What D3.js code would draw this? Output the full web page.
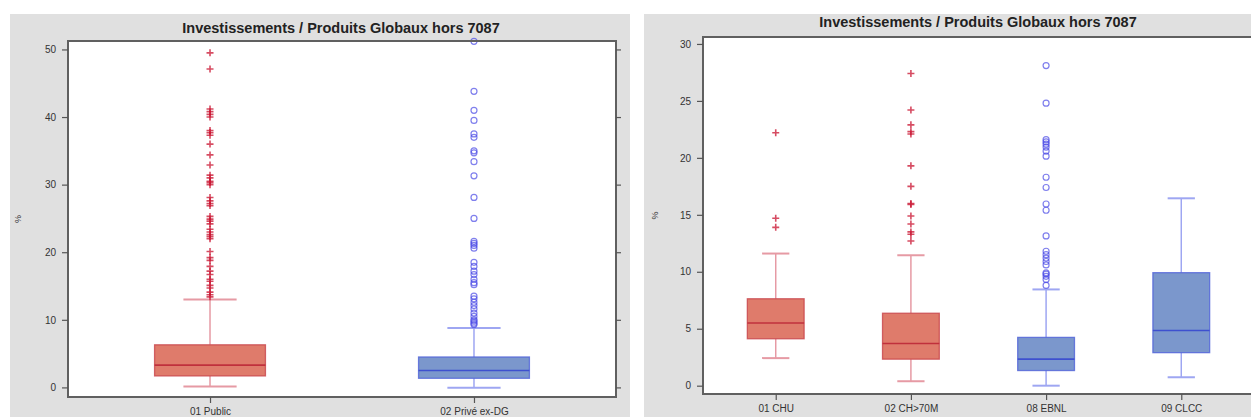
<!DOCTYPE html>
<html><head><meta charset="utf-8">
<script src="https://cdn.jsdelivr.net/npm/d3@7"></script>
<style>
html,body{margin:0;padding:0;background:#fff;overflow:hidden}
text{font-family:"Liberation Sans",Arial,sans-serif}
</style></head>
<body><svg id="c" width="1251" height="417"></svg>
<script>
// ---- data (left panel) ----
const titleText = "Investissements / Produits Globaux hors 7087";
const leftCategories = ["01 Public", "02 Privé ex-DG"];
const leftGroups = ["public", "private"];
const leftQ1 = [1.7, 1.35];
const leftMedian = [3.3, 2.5];
const leftQ3 = [6.3, 4.5];
const leftLow = [0.15, -0.05];
const leftHigh = [13.0, 8.8];
const leftOutliers = [
  [49.5, 47.1, 41.2, 40.8, 40.4, 40.0, 38.0, 37.7, 37.3, 36.0, 34.4, 32.9, 31.4, 31.0, 30.5, 30.3, 30.0, 28.1, 27.6, 27.2, 26.9, 25.3, 24.9, 24.6, 24.2, 23.4, 23.0, 22.6, 22.3, 22.0, 20.1, 19.2, 18.8, 17.9, 17.2, 16.7, 16.0, 15.7, 15.1, 14.7, 14.1, 13.7, 13.4],
  [51.2, 43.8, 41.0, 39.5, 37.5, 37.0, 35.0, 34.7, 33.4, 31.3, 28.1, 25.0, 21.6, 21.3, 21.0, 20.6, 18.5, 17.9, 17.2, 16.7, 16.0, 15.5, 15.2, 13.5, 13.1, 12.6, 12.1, 11.6, 11.0, 10.5, 10.0, 9.8, 9.5, 9.3]
];
const leftTicks = [0, 10, 20, 30, 40, 50];

// ---- data (right panel) ----
const rightCategories = ["01 CHU", "02 CH>70M", "08 EBNL", "09 CLCC"];
const rightGroups = ["public", "public", "private", "private"];
const rightQ1 = [4.12, 2.33, 1.33, 2.9];
const rightMedian = [5.5, 3.7, 2.33, 4.85];
const rightQ3 = [7.63, 6.36, 4.24, 9.92];
const rightLow = [2.42, 0.39, 0.0, 0.74];
const rightHigh = [11.6, 11.45, 8.45, 16.45];
const rightOutliers = [
  [22.2, 14.7, 13.9],
  [27.4, 24.2, 22.9, 22.3, 22.1, 19.3, 17.5, 16.0, 15.9, 14.9, 14.2, 13.5, 13.3, 12.7],
  [28.1, 24.8, 21.6, 21.4, 21.2, 20.95, 20.6, 20.15, 18.3, 17.4, 15.95, 15.4, 13.15, 11.8, 11.5, 11.2, 10.9, 10.6, 9.9, 9.8, 9.6, 9.33, 8.8],
  []
];
const rightTicks = [0, 5, 10, 15, 20, 25, 30];

const style = {
  public:  {fill:"#df7b6b", stroke:"#c8434a", median:"#c0303c", whisker:"#e69aa4", mark:"#c8102e"},
  private: {fill:"#7b97cc", stroke:"#4f62d8", median:"#3e50cf", whisker:"#9ea6f2", mark:"#4a4ae6"}
};

const svg = d3.select("#c");

function panel(o){
  const g = svg.append("g");
  g.append("rect").attr("x",o.bg[0]).attr("y",o.bg[1]).attr("width",o.bg[2]).attr("height",o.bg[3]).attr("fill","#e0e0e0");
  g.append("rect").attr("x",o.x0).attr("y",o.y1).attr("width",o.x1-o.x0).attr("height",o.y0-o.y1).attr("fill","#fff");
  const x = d3.scalePoint().domain(o.cats).range([o.x0,o.x1]).padding(0.538);
  const y = d3.scaleLinear().domain(o.dom).range([o.y0,o.y1]);
  const bw = x.step()*0.42;
  const data = o.cats.map((c,i)=>({c, grp:o.groups[i], q1:o.q1[i], med:o.med[i], q3:o.q3[i], lo:o.lo[i], hi:o.hi[i], out:o.out[i]}));
  const clipId = "clip"+o.id;
  g.append("clipPath").attr("id",clipId).append("rect").attr("x",o.x0).attr("y",o.y1-4).attr("width",o.x1-o.x0).attr("height",o.y0-o.y1+4);
  const plot = g.append("g").attr("clip-path",`url(#${clipId})`);
  const b = plot.selectAll("g.box").data(data).join("g").attr("class","box");
  b.append("line").attr("x1",d=>x(d.c)).attr("x2",d=>x(d.c)).attr("y1",d=>y(d.lo)).attr("y2",d=>y(d.q1))
    .attr("stroke",d=>style[d.grp].whisker).attr("stroke-width",1.5);
  b.append("line").attr("x1",d=>x(d.c)).attr("x2",d=>x(d.c)).attr("y1",d=>y(d.q3)).attr("y2",d=>y(d.hi))
    .attr("stroke",d=>style[d.grp].whisker).attr("stroke-width",1.5);
  ["lo","hi"].forEach(k=>{
    b.append("line").attr("x1",d=>x(d.c)-bw*0.24).attr("x2",d=>x(d.c)+bw*0.24).attr("y1",d=>y(d[k])).attr("y2",d=>y(d[k]))
      .attr("stroke",d=>style[d.grp].whisker).attr("stroke-width",2);
  });
  b.append("rect").attr("x",d=>x(d.c)-bw/2).attr("width",bw).attr("y",d=>y(d.q3)).attr("height",d=>y(d.q1)-y(d.q3))
    .attr("fill",d=>style[d.grp].fill).attr("stroke",d=>style[d.grp].stroke).attr("stroke-width",1.3).attr("stroke-opacity",0.8);
  b.append("line").attr("x1",d=>x(d.c)-bw/2).attr("x2",d=>x(d.c)+bw/2).attr("y1",d=>y(d.med)).attr("y2",d=>y(d.med))
    .attr("stroke",d=>style[d.grp].median).attr("stroke-width",1.6);
  b.each(function(d){
    const s = d3.select(this);
    const pts = d.out.map(v=>({v}));
    if(d.grp==="public"){
      s.selectAll("path.o").data(pts).join("path").attr("class","o")
        .attr("d",p=>`M${x(d.c)-3.5},${y(p.v)}h7M${x(d.c)},${y(p.v)-3.5}v7`)
        .attr("stroke",style.public.mark).attr("stroke-width",1.6).attr("stroke-opacity",0.75).attr("fill","none");
    } else {
      s.selectAll("circle.o").data(pts).join("circle").attr("class","o")
        .attr("cx",x(d.c)).attr("cy",p=>y(p.v)).attr("r",3)
        .attr("stroke",style.private.mark).attr("stroke-width",1.2).attr("stroke-opacity",0.7).attr("fill","none");
    }
  });
  // frame
  g.append("rect").attr("x",o.x0).attr("y",o.y1).attr("width",o.x1-o.x0).attr("height",o.y0-o.y1)
    .attr("fill","none").attr("stroke","#606060").attr("stroke-width",2);
  // axes
  const ya = g.append("g").attr("transform",`translate(${o.x0},0)`)
    .call(d3.axisLeft(y).tickValues(o.ticks).tickSize(6).tickPadding(6));
  const yr = g.append("g").attr("transform",`translate(${o.x1},0)`)
    .call(d3.axisRight(y).tickValues(o.ticks).tickSize(5).tickFormat(""));
  const xa = g.append("g").attr("transform",`translate(0,${o.y0})`)
    .call(d3.axisBottom(x).tickSize(6).tickPadding(5));
  [ya,yr,xa].forEach(a=>{
    a.select(".domain").remove();
    a.selectAll(".tick line").attr("stroke","#555").attr("stroke-width",1.2);
    a.selectAll(".tick text").attr("fill","#333").style("font-size","10px");
  });
  g.append("text").attr("x",(o.bg[0]*2+o.titleW)/2).attr("y",o.titleY).attr("text-anchor","middle")
    .style("font-size","14.5px").style("font-weight","bold").attr("fill","#222").text(titleText);
  g.append("text").attr("transform",`translate(${o.ylabX},${(o.y0+o.y1)/2}) rotate(-90)`).attr("text-anchor","middle")
    .style("font-size","9px").attr("fill","#333").text("%");
}

panel({id:"L", bg:[10,14,620,403], titleW:662, titleY:33, x0:68, x1:616, y0:397, y1:41, dom:[-1.42,51.25],
  cats:leftCategories, groups:leftGroups, q1:leftQ1, med:leftMedian, q3:leftQ3, lo:leftLow, hi:leftHigh, out:leftOutliers, ticks:leftTicks, ylabX:21});
panel({id:"R", bg:[644,14,607,403], titleW:668, titleY:27, x0:703, x1:1254, y0:394, y1:37, dom:[-0.73,30.61],
  cats:rightCategories, groups:rightGroups, q1:rightQ1, med:rightMedian, q3:rightQ3, lo:rightLow, hi:rightHigh, out:rightOutliers, ticks:rightTicks, ylabX:658});
</script></body></html>
